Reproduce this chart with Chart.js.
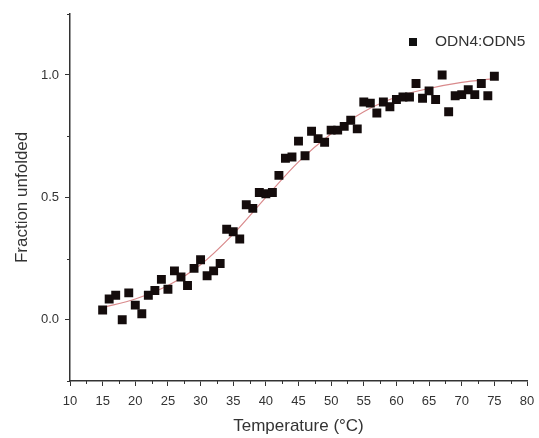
<!DOCTYPE html>
<html>
<head>
<meta charset="utf-8">
<script src="https://cdn.jsdelivr.net/npm/chart.js@4.4.1/dist/chart.umd.min.js"></script>
<style>
  html, body { margin: 0; padding: 0; background: #fff; }
  #wrap { width: 539px; height: 438px; }
</style>
</head>
<body>
<div id="wrap"><canvas id="meltChart"></canvas></div>
<script>
// Measured points (temperature in °C, fraction unfolded)
const temperatures = [15, 16, 17, 18, 19, 20, 21, 22, 23, 24, 25, 26, 27, 28, 29, 30,
    31, 32, 33, 34, 35, 36, 37, 38, 39, 40, 41, 42, 43, 44, 45, 46, 47, 48, 49, 50,
    51, 52, 53, 54, 55, 56, 57, 58, 59, 60, 61, 62, 63, 64, 65, 66, 67, 68, 69, 70,
    71, 72, 73, 74, 75];
const fractions = [0.04, 0.085, 0.10, 0.0, 0.11, 0.06, 0.025, 0.10, 0.12, 0.165, 0.125,
    0.20, 0.175, 0.14, 0.21, 0.245, 0.18, 0.20, 0.23, 0.37, 0.36, 0.33, 0.47, 0.455,
    0.52, 0.515, 0.52, 0.59, 0.66, 0.665, 0.73, 0.67, 0.77, 0.74, 0.725, 0.775, 0.775,
    0.79, 0.815, 0.78, 0.89, 0.885, 0.845, 0.89, 0.87, 0.90, 0.91, 0.91, 0.965, 0.905,
    0.935, 0.90, 1.0, 0.85, 0.915, 0.92, 0.94, 0.92, 0.965, 0.915, 0.995];

// Sigmoidal fit curve
const fitTemps = [15, 20, 25, 30, 35, 40, 45, 50, 55, 60, 65, 70, 75];
const fitValues = [0.05, 0.085, 0.14, 0.225, 0.35, 0.50, 0.645, 0.76, 0.85, 0.91, 0.945, 0.97, 0.985];

const seriesLabel = 'ODN4:ODN5';
const xLabelTicks = [10, 15, 20, 25, 30, 35, 40, 45, 50, 55, 60, 65, 70, 75, 80];
const yLabelTicks = [0.0, 0.5, 1.0];

const axisColor = '#333';
const textColor = '#333';
const fontFamily = "'Liberation Sans', Arial, sans-serif";

/**
 * Short minor ticks plus the legend drawn inside the plot
 */
const extrasPlugin = {
    id: 'extras',
    afterDraw(chart) {
        const ctx = chart.ctx;
        const xs = chart.scales.x;
        const ys = chart.scales.y;
        ctx.save();
        ctx.strokeStyle = axisColor;
        ctx.lineWidth = 1;
        xs.ticks.forEach(t => {
            if (xLabelTicks.includes(t.value)) return;
            const px = Math.round(xs.getPixelForValue(t.value)) + 0.5;
            ctx.beginPath();
            ctx.moveTo(px, ys.bottom);
            ctx.lineTo(px, ys.bottom + 3);
            ctx.stroke();
        });
        ys.ticks.forEach(t => {
            if (yLabelTicks.some(v => Math.abs(v - t.value) < 1e-6)) return;
            const py = Math.round(ys.getPixelForValue(t.value)) + 0.5;
            ctx.beginPath();
            ctx.moveTo(xs.left, py);
            ctx.lineTo(xs.left - 3, py);
            ctx.stroke();
        });

        // legend
        ctx.fillStyle = '#111';
        ctx.fillRect(409, 38, 8, 8);
        ctx.fillStyle = textColor;
        ctx.font = '15.5px ' + fontFamily;
        ctx.textBaseline = 'middle';
        ctx.textAlign = 'left';
        ctx.fillText(seriesLabel, 435, 42);
        ctx.restore();
    }
};

function initializeChart() {
    const points = temperatures.map((t, i) => ({ x: t, y: fractions[i] }));
    const fit = fitTemps.map((t, i) => ({ x: t, y: fitValues[i] }));

    new Chart(document.getElementById('meltChart'), {
        type: 'scatter',
        data: {
            datasets: [{
                label: seriesLabel,
                data: points,
                pointStyle: 'rect',
                pointRadius: 6.3,
                pointBackgroundColor: '#140c0c',
                pointBorderWidth: 0,
                order: 1
            }, {
                label: 'fit',
                data: fit,
                showLine: true,
                borderColor: '#d98a8c',
                borderWidth: 1.2,
                pointRadius: 0,
                cubicInterpolationMode: 'monotone',
                order: 2
            }]
        },
        options: {
            responsive: true,
            maintainAspectRatio: false,
            animation: false,
            layout: { padding: { top: 13, right: 7, left: 0, bottom: 0 } },
            plugins: {
                legend: { display: false },
                tooltip: { enabled: false }
            },
            scales: {
                x: {
                    type: 'linear',
                    min: 10,
                    max: 80,
                    border: { color: axisColor, width: 1.5 },
                    grid: {
                        drawOnChartArea: false,
                        tickLength: 5,
                        tickColor: c => xLabelTicks.includes(c.tick.value) ? axisColor : 'rgba(0,0,0,0)'
                    },
                    ticks: {
                        stepSize: 2.5,
                        autoSkip: false,
                        maxRotation: 0,
                        padding: 8,
                        color: textColor,
                        font: { size: 13, family: fontFamily },
                        callback: v => xLabelTicks.includes(v) ? String(v) : ''
                    },
                    title: {
                        display: true,
                        text: 'Temperature (°C)',
                        color: textColor,
                        font: { size: 17, family: fontFamily },
                        padding: { top: 4, bottom: 1 }
                    },
                    afterFit: scale => {
                        scale.height = 57;
                        scale.paddingRight = 12;
                    }
                },
                y: {
                    type: 'linear',
                    min: -0.25,
                    max: 1.25,
                    border: { color: axisColor, width: 1.5 },
                    grid: {
                        drawOnChartArea: false,
                        tickLength: 5,
                        tickColor: c => yLabelTicks.some(v => Math.abs(v - c.tick.value) < 1e-6) ? axisColor : 'rgba(0,0,0,0)'
                    },
                    ticks: {
                        stepSize: 0.25,
                        autoSkip: false,
                        padding: 6,
                        color: textColor,
                        font: { size: 13, family: fontFamily },
                        callback: v => yLabelTicks.some(t => Math.abs(t - v) < 1e-6) ? v.toFixed(1) : ''
                    },
                    title: {
                        display: true,
                        text: 'Fraction unfolded',
                        color: textColor,
                        font: { size: 17, family: fontFamily },
                        padding: { top: 12, bottom: 0 }
                    },
                    afterFit: scale => { scale.width = 70; }
                }
            }
        },
        plugins: [extrasPlugin]
    });
}

initializeChart();
</script>
</body>
</html>
